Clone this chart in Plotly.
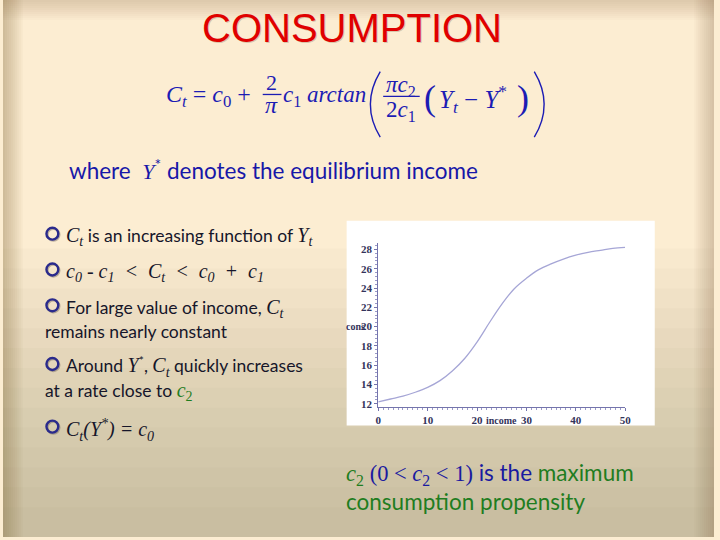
import plotly.graph_objects as go

# data
income = [0, 2.5, 5, 7.5, 10, 12.5, 15, 17.5, 20, 22.5, 25, 27.5, 30,
          32.5, 35, 37.5, 40, 42.5, 45, 47.5, 50]
cons = [12.2, 12.5, 12.8, 13.2, 13.7, 14.4, 15.4, 16.7, 18.4, 20.4, 22.3,
        23.9, 25.0, 25.9, 26.5, 27.0, 27.4, 27.7, 27.9, 28.1, 28.2]
x_ticks = [0, 10, 20, 30, 40, 50]
y_ticks = [12, 14, 16, 18, 20, 22, 24, 26, 28]

W, H = 720, 540
SERIF = "Liberation Serif"
SANS = "Lato"
BLUE = "#1c1cb4"
DARK = "#16162a"
GREEN = "#1f7d1f"


def px(x):
    return x / W


def py(y):
    return 1 - y / H


fig = go.Figure()

fig.add_trace(go.Scatter(
    x=income, y=cons, mode="lines", line=dict(color="#a6a6d6", width=1.3, shape="spline"),
    hoverinfo="skip", showlegend=False
))

# background: cream with darker edges
shapes = []
for i in range(14):
    y0 = 250 + i * 20
    shapes.append(dict(type="rect", xref="paper", yref="paper", x0=0, x1=1,
                       y0=0, y1=py(y0), line_width=0, layer="below",
                       fillcolor="rgba(120,100,60,0.026)"))
for i in range(10):
    d = 2 * (i + 1)
    shapes.append(dict(type="rect", xref="paper", yref="paper", x0=0, x1=1,
                       y0=py(d), y1=1, line_width=0, layer="below",
                       fillcolor="rgba(140,115,60,0.026)"))
    shapes.append(dict(type="rect", xref="paper", yref="paper", x0=0, x1=px(d),
                       y0=0, y1=1, line_width=0, layer="below",
                       fillcolor="rgba(130,105,55,0.04)"))
    shapes.append(dict(type="rect", xref="paper", yref="paper", x0=px(W - d), x1=1,
                       y0=0, y1=1, line_width=0, layer="below",
                       fillcolor="rgba(130,105,55,0.03)"))
# white box behind chart
shapes.append(dict(type="rect", xref="paper", yref="paper", x0=px(348), x1=px(660),
                   y0=py(428), y1=py(222), line_width=0, layer="below", fillcolor="white"))

# bullet circles
for yb in [236, 272, 308, 367, 430]:
    shapes.append(dict(type="circle", xref="paper", yref="paper",
                       x0=px(45), x1=px(57), y0=py(yb + 6), y1=py(yb - 6),
                       line=dict(color="rgba(110,100,90,0.45)", width=2.4)))
    shapes.append(dict(type="circle", xref="paper", yref="paper",
                       x0=px(44), x1=px(56), y0=py(yb + 5), y1=py(yb - 7),
                       line=dict(color="#2a2a8c", width=2.4)))

# formula fraction bars and big parens
shapes.append(dict(type="line", xref="paper", yref="paper", x0=px(263), x1=px(282),
                   y0=py(95), y1=py(95), line=dict(color=BLUE, width=1.3)))
shapes.append(dict(type="line", xref="paper", yref="paper", x0=px(385), x1=px(422),
                   y0=py(97), y1=py(97), line=dict(color=BLUE, width=1.3)))
shapes.append(dict(type="path", xref="paper", yref="paper",
                   path=f"M {px(382)},{py(72)} Q {px(362)},{py(105)} {px(382)},{py(138)}",
                   line=dict(color=BLUE, width=1.4)))
shapes.append(dict(type="path", xref="paper", yref="paper",
                   path=f"M {px(538)},{py(72)} Q {px(558)},{py(105)} {px(538)},{py(138)}",
                   line=dict(color=BLUE, width=1.4)))

ann = []


def text(x, y, s, size, color, family=SANS, xanchor="left"):
    ann.append(dict(x=px(x), y=py(y), xref="paper", yref="paper", text=s,
                    showarrow=False, xanchor=xanchor, yanchor="middle",
                    font=dict(size=size, color=color, family=family)))


def m(s, size=20):
    return f"<span style='font-family:{SERIF};font-size:{size}px'><i>{s}</i></span>"


# title with soft shadow
text(354.5, 29.5, "CONSUMPTION", 40, "rgba(130,100,70,0.3)", "Liberation Sans", "center")
text(353, 28, "CONSUMPTION", 40, "#e00000", "Liberation Sans", "center")

# formula
text(163, 97, "<i>C</i><sub><i>t</i></sub> = <i>c</i><sub>0</sub> +", 24, BLUE, SERIF)
text(272, 83, "2", 22, BLUE, SERIF, "center")
text(272, 106, "<i>π</i>", 24, BLUE, SERIF, "center")
text(282, 97, "<i>c</i><sub>1</sub> <i>arctan</i>", 23, BLUE, SERIF)
text(403, 86, "<i>πc</i><sub>2</sub>", 23, BLUE, SERIF, "center")
text(403, 112, "2<i>c</i><sub>1</sub>", 23, BLUE, SERIF, "center")
text(432, 99, "(", 36, BLUE, SERIF, "center")
text(439, 100, "<i>Y</i><sub><i>t</i></sub> − <i>Y</i><sup>*</sup>", 25, BLUE, SERIF)
text(527, 99, ")", 36, BLUE, SERIF, "center")

text(65, 170, "where  " + m("Y", 22) + "<sup>*</sup> denotes the equilibrium income", 22.5, "#1717a8")

# bullet texts
text(62, 238, m("C<sub>t</sub>") + " is an increasing function of " + m("Y<sub>t</sub>"), 17.5, DARK)
text(62, 274, m("c<sub>0</sub> - c<sub>1</sub>  &lt;  C<sub>t</sub>  &lt;  c<sub>0</sub>  +  c<sub>1</sub>", 20), 17.5, DARK)
text(62, 310, "For large value of income, " + m("C<sub>t</sub>"), 17.5, DARK)
text(40, 333, "remains nearly constant", 17.5, DARK)
text(62, 369, "Around " + m("Y") + "<sup>*</sup>, " + m("C<sub>t</sub>") + " quickly increases", 17.5, DARK)
text(40, 394, "at a rate close to " + f"<span style='color:{GREEN};font-family:{SERIF};font-size:20px'><i>c</i><sub>2</sub></span>", 17.5, DARK)
text(62, 432, m("C<sub>t</sub>(Y<sup>*</sup>) = c<sub>0</sub>"), 17.5, DARK)

# bottom note
text(345, 477,
     f"<span style='color:{GREEN};font-family:{SERIF}'><i>c</i><sub>2</sub></span> "
     f"<span style='font-family:{SERIF}'>(0 &lt; <i>c</i><sub>2</sub> &lt; 1)</span> is the "
     f"<span style='color:{GREEN}'>maximum</span>", 22.5, "#1a1aa0")
text(345, 504, "consumption propensity", 22.5, GREEN)

# axis labels of the small chart
text(357, 328, "<b>cons</b>", 10, "#33335a", SERIF, "center")
text(505, 423, "<b>income</b>", 10, "#33335a", SERIF, "center")

axis_font = dict(family=SERIF, size=11, color="#33335a", weight="bold")
fig.update_layout(
    width=W, height=H,
    margin=dict(l=0, r=0, t=0, b=0),
    paper_bgcolor="#fcedd2",
    plot_bgcolor="white",
    shapes=shapes,
    annotations=ann,
    xaxis=dict(domain=[px(380), px(630)], range=[0, 50], tickvals=x_ticks,
               showline=True, linecolor="#7474ac", linewidth=1, ticks="outside",
               ticklen=3, tickcolor="#7474ac", showgrid=False, zeroline=False,
               tickfont=axis_font,
               minor=dict(dtick=1, ticklen=2, tickcolor="#9a9ac8", ticks="outside")),
    yaxis=dict(domain=[py(409), py(244)], range=[11.7, 28.7], tickvals=y_ticks,
               showline=True, linecolor="#7474ac", linewidth=1, ticks="outside",
               ticklen=3, tickcolor="#7474ac", showgrid=False, zeroline=False,
               tickfont=axis_font,
               minor=dict(dtick=0.4, ticklen=2, tickcolor="#9a9ac8", ticks="outside")),
)

fig.write_html("out.html", config={"displayModeBar": False},
               post_script="document.body.style.margin='0px';")
